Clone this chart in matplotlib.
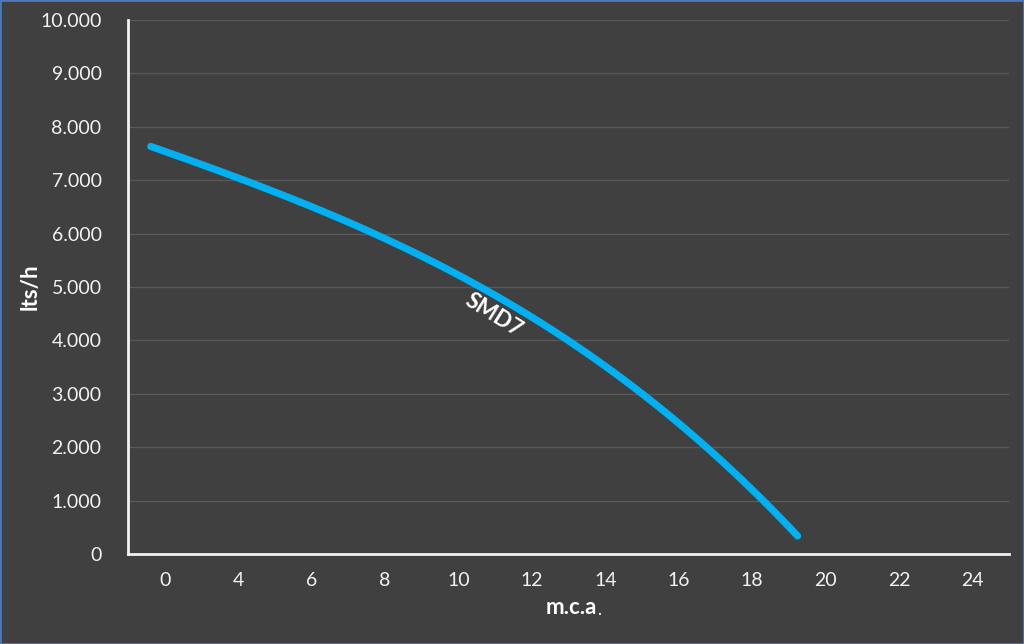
import numpy as np
import matplotlib
matplotlib.use("Agg")
import matplotlib.pyplot as plt
from matplotlib.ticker import FuncFormatter
from matplotlib.patches import Rectangle

# category labels on the x axis (Excel-style category axis)
x_labels = ["0", "4", "6", "8", "10", "12", "14", "16", "18", "20", "22", "24"]

# pump curve SMD7, head in m.c.a. vs flow in lts/h
head = [1.62, 4.27, 7.74, 10.52, 12.86, 15.15, 16.79, 18.24, 19.24]
flow = [7616, 7000, 6000, 5000, 4000, 3000, 2000, 1000, 343]

bg = "#404040"
txt = "#f2f2f2"
blue = "#00b0f0"

plt.rcParams['font.family'] = ['Lato', 'DejaVu Sans']

fig = plt.figure(figsize=(10.24, 6.44), dpi=100, facecolor=bg)
ax = fig.add_axes([0.125, 0.1398, 0.8604, 0.8292], facecolor=bg)

# smooth the curve through the read points
h = np.array(head)
q = np.array(flow)
coef = np.polyfit(h, q, 3)
hs = np.linspace(h[0], h[-1], 200)
qs = np.polyval(coef, hs)
pos = hs / 2.0 - 1.0   # label "4" sits on category 1, "6" on 2, ...
ax.plot(pos, qs, color=blue, lw=5.2, solid_capstyle='round', zorder=3)

ax.set_xlim(-0.5, len(x_labels) - 0.5)
ax.set_ylim(0, 10000)
ax.set_xticks(range(len(x_labels)))
ax.set_xticklabels(x_labels)
ax.set_yticks(np.arange(0, 10001, 1000))
ax.yaxis.set_major_formatter(FuncFormatter(lambda v, p: f"{int(v):,}".replace(",", ".")))
ax.tick_params(length=0, colors=txt, labelsize=14)
ax.tick_params(axis='x', pad=13)
ax.tick_params(axis='y', pad=19)

ax.grid(axis='y', color="#585858", lw=1)
ax.set_axisbelow(True)
for s in ["top", "right"]:
    ax.spines[s].set_visible(False)
for s in ["left", "bottom"]:
    ax.spines[s].set_color("#f2f2f2")
    ax.spines[s].set_linewidth(2)

# curve label
ax.text(4.48, 4476, "SMD7", color="white", fontsize=16, fontweight='bold',
        rotation=-32, ha='center', va='center', rotation_mode='anchor', zorder=4)

# axis titles
fig.text(30 / 1024, 1 - 287 / 644, "lts/h", color="white", fontsize=16,
         fontweight='bold', rotation=90, ha='center', va='center')
fig.text(597 / 1024, 1 - 607 / 644, "m.c.a", color="white", fontsize=16,
         fontweight='bold', ha='right', va='center')
fig.text(597 / 1024, 1 - 610 / 644, ".", color="white", fontsize=12,
         ha='left', va='center')

# thin blue frame around the picture
fig.patches.append(Rectangle((0, 0), 1, 1, transform=fig.transFigure,
                             fill=False, edgecolor="#4a7ab5", lw=2))

fig.savefig("out.png", dpi=100, facecolor=bg)
